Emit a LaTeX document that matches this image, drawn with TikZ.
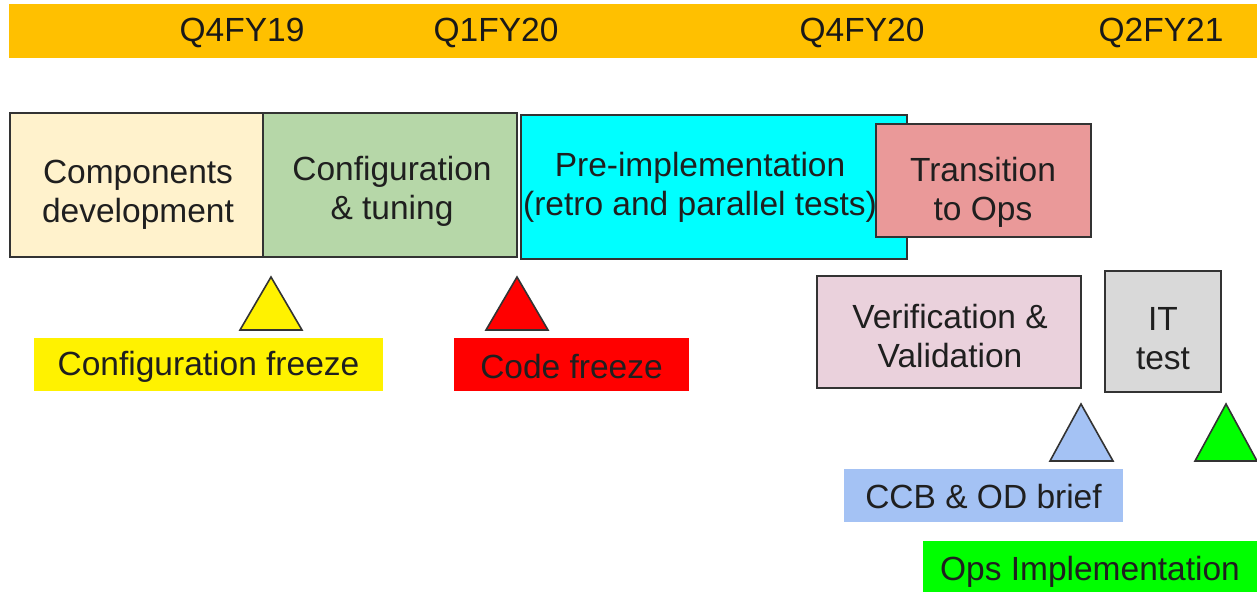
\documentclass[tikz,border=0pt]{standalone}
\usepackage{fontspec}
\setmainfont{Liberation Sans}
\definecolor{barorange}{RGB}{255,192,0}
\definecolor{cream}{RGB}{255,242,204}
\definecolor{sage}{RGB}{182,215,168}
\definecolor{aqua}{RGB}{0,255,255}
\definecolor{salmon}{RGB}{234,153,153}
\definecolor{pinkish}{RGB}{234,209,220}
\definecolor{lgray}{RGB}{217,217,217}
\definecolor{lblue}{RGB}{164,194,244}
\definecolor{brightgreen}{RGB}{0,255,0}
\definecolor{edge}{RGB}{51,51,51}
\tikzset{
  phase/.style={draw=edge, line width=0.8pt, inner sep=0pt},
  txt/.style={inner sep=0pt, align=center, font=\fontsize{16.75}{19.5}\selectfont, text=black!88},
  tag/.style={inner sep=0pt},
  tri/.style={draw=edge, line width=0.8pt, line join=miter},
  qlabel/.style={font=\fontsize{16.75}{19.5}\selectfont, text=black!90, inner sep=0pt}
}
\begin{document}
\begin{tikzpicture}[x=0.5pt,y=-0.5pt]
\useasboundingbox (0,0) rectangle (1257,592);
% timeline bar
\fill[barorange] (9,4) rectangle (1257,58);
\node[qlabel] (q4fy19) at (242,33) {Q4FY19};
\node[qlabel] (q1fy20) at (496,33) {Q1FY20};
\node[qlabel] (q4fy20) at (862,33) {Q4FY20};
\node[qlabel] (q2fy21) at (1161,33) {Q2FY21};
% phases
\node[phase, fill=cream, minimum width=253pt*0.5, minimum height=144pt*0.5] (comp) at (136.5,185) {};
\node[txt] (compt) at (138,195) {Components\\development};
\node[phase, fill=sage, minimum width=254pt*0.5, minimum height=144pt*0.5] (conf) at (390,185) {};
\node[txt] (conft) at (392,191) {Configuration\\\& tuning};
\node[phase, fill=aqua, minimum width=386pt*0.5, minimum height=144pt*0.5] (pre) at (714,187) {};
\node[txt] (pret) at (700,187) {Pre-implementation\\(retro and parallel tests)};
\node[phase, fill=salmon, minimum width=215pt*0.5, minimum height=113pt*0.5] (trans) at (983.5,180.5) {};
\node[txt] (transt) at (983,192) {Transition\\to Ops};
\node[phase, fill=pinkish, minimum width=264pt*0.5, minimum height=112pt*0.5] (vv) at (949,332) {};
\node[txt] (vvt) at (950,336) {Verification \&\\Validation};
\node[phase, fill=lgray, minimum width=116pt*0.5, minimum height=121pt*0.5] (it) at (1163,331.5) {};
\node[txt] (itt) at (1163,339) {IT\\test};
% milestones
\draw[tri, fill=yellow] (240,330) -- (271,277) -- (302,330) -- cycle;
\node[tag, fill=yellow, minimum width=349pt*0.5, minimum height=53pt*0.5] (cfgfreeze) at (208.5,364.5) {};
\node[txt] (cfgfreezet) at (208.5,367) {Configuration freeze};
\draw[tri, fill=red] (486,330) -- (517,277) -- (548,330) -- cycle;
\node[tag, fill=red, minimum width=235pt*0.5, minimum height=53pt*0.5] (codefreeze) at (571.5,364.5) {};
\node[txt] (codefreezet) at (571.5,366.5) {Code freeze};
\draw[tri, fill=lblue] (1050,461) -- (1081,404) -- (1113,461) -- cycle;
\node[tag, fill=lblue, minimum width=279pt*0.5, minimum height=53pt*0.5] (ccb) at (983.5,495.5) {};
\node[txt] (ccbt) at (983.5,496.5) {CCB \& OD brief};
\draw[tri, fill=brightgreen] (1195,461) -- (1226,404) -- (1257,461) -- cycle;
\node[tag, fill=brightgreen, minimum width=334pt*0.5, minimum height=51pt*0.5] (ops) at (1090,566.5) {};
\node[txt] (opst) at (1090,572) {Ops Implementation};
\end{tikzpicture}
\end{document}
